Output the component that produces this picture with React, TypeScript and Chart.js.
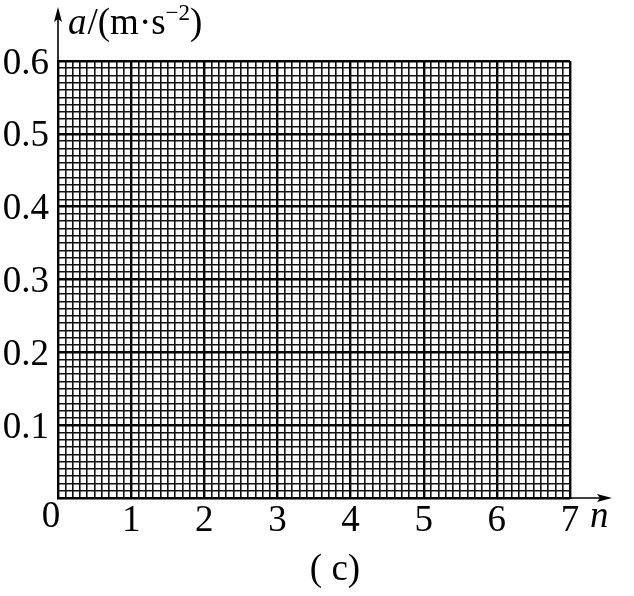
import React, { useEffect, useRef } from 'react';
import { Chart, registerables } from 'chart.js';

Chart.register(...registerables);

// ---- data ----
const xRange = [0, 7];
const yRange = [0, 0.6];
const xMinorStep = 0.1;
const yMinorStep = 0.01;
const xTickValues = [0, 1, 2, 3, 4, 5, 6, 7];
const xTickLabels = ['0', '1', '2', '3', '4', '5', '6', '7'];
const yTickValues = [0.1, 0.2, 0.3, 0.4, 0.5, 0.6];
const yTickLabels = ['0.1', '0.2', '0.3', '0.4', '0.5', '0.6'];
const yTitleItalic = 'a';
const yTitleMain = '/(m·s';
const yTitleSup = '−2';
const yTitleEnd = ')';
const xTitle = 'n';
const caption = '( c)';

const FONT = '"Liberation Serif", "DejaVu Serif", serif';

const isMajorX = (v: number) => Math.abs(v - Math.round(v)) < 1e-6;
const isMajorY = (v: number) => Math.abs(v * 10 - Math.round(v * 10)) < 1e-6;

const decorPlugin = {
  id: 'decor',
  afterDraw(chart: any) {
    const ctx = chart.ctx as CanvasRenderingContext2D;
    const xs = chart.scales.x;
    const ys = chart.scales.y;
    const left = xs.getPixelForValue(xRange[0]);
    const right = xs.getPixelForValue(xRange[1]);
    const bottom = ys.getPixelForValue(yRange[0]);
    const top = ys.getPixelForValue(yRange[1]);
    ctx.save();
    ctx.strokeStyle = '#000';
    ctx.fillStyle = '#000';
    // y axis extension with arrow
    ctx.lineWidth = 1.6;
    ctx.beginPath();
    ctx.moveTo(left, top);
    ctx.lineTo(left, 14);
    ctx.stroke();
    ctx.beginPath();
    ctx.moveTo(left, 7);
    ctx.lineTo(left - 4, 22);
    ctx.lineTo(left, 19);
    ctx.lineTo(left + 4, 22);
    ctx.closePath();
    ctx.fill();
    // x axis extension with arrow
    const tipX = 612;
    ctx.beginPath();
    ctx.moveTo(right, bottom);
    ctx.lineTo(tipX - 6, bottom);
    ctx.stroke();
    ctx.beginPath();
    ctx.moveTo(tipX, bottom);
    ctx.lineTo(tipX - 15, bottom - 4);
    ctx.lineTo(tipX - 12, bottom);
    ctx.lineTo(tipX - 15, bottom + 4);
    ctx.closePath();
    ctx.fill();

    // y tick labels
    ctx.font = `37px ${FONT}`;
    ctx.textAlign = 'right';
    ctx.textBaseline = 'alphabetic';
    yTickValues.forEach((v, i) => {
      const y = ys.getPixelForValue(v);
      ctx.fillText(yTickLabels[i], left - 9, y + 12.5);
    });
    // x tick labels
    ctx.textAlign = 'center';
    xTickValues.forEach((v, i) => {
      let x = xs.getPixelForValue(v);
      let dy = 33;
      if (v === 0) { x -= 7; dy = 29; }
      ctx.fillText(xTickLabels[i], x, bottom + dy);
    });
    // x title
    ctx.font = `italic 37px ${FONT}`;
    ctx.textAlign = 'left';
    ctx.fillText(xTitle, 590, bottom + 29);
    // y title
    let tx = 68;
    const ty = 34;
    ctx.font = `italic 37px ${FONT}`;
    ctx.fillText(yTitleItalic, tx, ty);
    tx += ctx.measureText(yTitleItalic).width + 1;
    ctx.font = `37px ${FONT}`;
    ctx.fillText(yTitleMain, tx, ty);
    tx += ctx.measureText(yTitleMain).width;
    ctx.font = `23px ${FONT}`;
    ctx.fillText(yTitleSup, tx, ty - 14);
    tx += ctx.measureText(yTitleSup).width;
    ctx.font = `37px ${FONT}`;
    ctx.fillText(yTitleEnd, tx, ty);
    // caption
    ctx.font = `37px ${FONT}`;
    ctx.textAlign = 'center';
    ctx.fillText(caption, 335, 580);
    ctx.restore();
  },
};

export default function App() {
  const ref = useRef<HTMLCanvasElement | null>(null);
  useEffect(() => {
    if (!ref.current) return;
    const chart = new Chart(ref.current, {
      type: 'scatter',
      data: { datasets: [{ data: [] }] },
      options: {
        animation: false,
        responsive: false,
        layout: { padding: { left: 58, top: 61, right: 64, bottom: 98 } },
        plugins: { legend: { display: false }, tooltip: { enabled: false } },
        scales: {
          x: {
            type: 'linear',
            min: xRange[0],
            max: xRange[1],
            ticks: { stepSize: xMinorStep, display: false, autoSkip: false },
            grid: {
              drawTicks: false,
              color: (c: any) => (c.tick && isMajorX(c.tick.value) ? '#000' : '#111'),
              lineWidth: (c: any) => (c.tick && isMajorX(c.tick.value) ? 2.4 : 1.6),
            },
            border: { display: true, color: '#000', width: 2 },
          },
          y: {
            type: 'linear',
            min: yRange[0],
            max: yRange[1],
            ticks: { stepSize: yMinorStep, display: false, autoSkip: false },
            grid: {
              drawTicks: false,
              color: (c: any) => (c.tick && isMajorY(c.tick.value) ? '#000' : '#111'),
              lineWidth: (c: any) => (c.tick && isMajorY(c.tick.value) ? 2.4 : 1.6),
            },
            border: { display: true, color: '#000', width: 2 },
          },
        },
      },
      plugins: [decorPlugin],
    });
    return () => chart.destroy();
  }, []);
  return (
    <div style={{ position: 'absolute', left: 0, top: 0, width: 634, height: 596, background: '#fff' }}>
      <canvas ref={ref} width={634} height={596} style={{ display: 'block' }} />
    </div>
  );
}
